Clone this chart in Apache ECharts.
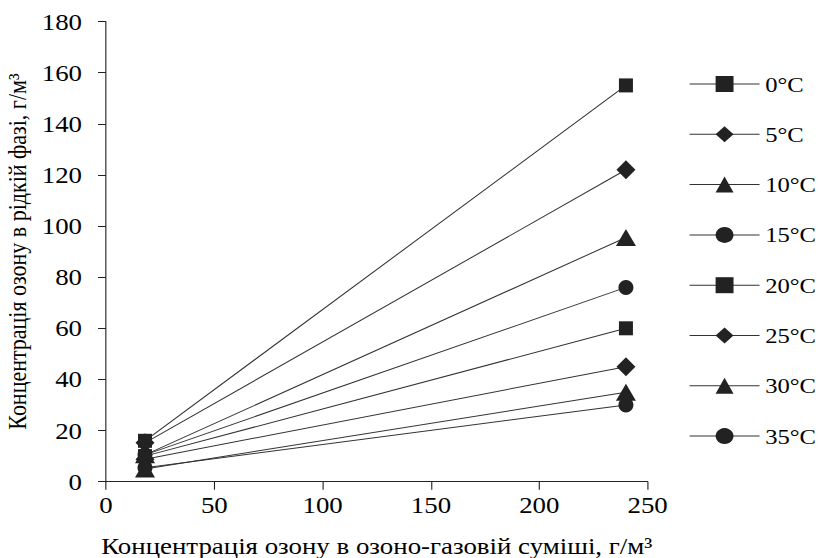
<!DOCTYPE html>
<html>
<head>
<meta charset="utf-8">
<script src="https://cdn.jsdelivr.net/npm/echarts@6/dist/echarts.min.js"></script>
<style>
  html, body { margin: 0; padding: 0; background: #fff; overflow: hidden; }
  #chart { height: 558px; transform-origin: 0 0; }
</style>
</head>
<body>
<div id="chart"></div>
<script>
// Ozone concentration in the gas mixture (x), g/m3
const gasConc = [18, 240];
// Series names (temperature)
const temps = ['0°C', '5°C', '10°C', '15°C', '20°C', '25°C', '30°C', '35°C'];
// Liquid-phase ozone concentration, g/m3, at each gas concentration
const liquidLow  = [16, 15.2, 10.5, 10.5, 10, 8.8, 5, 5.5];
const liquidHigh = [155, 122, 95.5, 76, 60, 45, 35, 30];
// Axis ticks
const xTicks = { min: 0, max: 250, step: 50 };
const yTicks = { min: 0, max: 180, step: 20 };

// The serif lettering of this figure is set wide; the drawing is laid out
// in a narrower box and widened by SX so text keeps that proportion.
const SX = 1.12;
const PAGE_W = 818;
const el = document.getElementById('chart');
el.style.width = (PAGE_W / SX) + 'px';
el.style.transform = 'scaleX(' + SX + ')';
const hx = v => v / SX;   // horizontal page px -> layout px

const markers = ['rect', 'diamond', 'triangle', 'circle', 'rect', 'diamond', 'triangle', 'circle'];
const markerSize = {
  rect: [hx(14), 14],
  diamond: [hx(19), 19],
  triangle: [hx(20), 17],
  circle: [hx(15), 15]
};

const FONT = '"Liberation Serif", "Times New Roman", serif';
const INK = '#222';

const series = temps.map((name, i) => ({
  name: name,
  type: 'line',
  data: gasConc.map((x, k) => [x, k === 0 ? liquidLow[i] : liquidHigh[i]]),
  symbol: markers[i],
  symbolSize: markerSize[markers[i]],
  itemStyle: { color: INK, borderWidth: 0 },
  lineStyle: { color: '#333', width: 1 },
  emphasis: { disabled: true },
  animation: false
}));

const chart = echarts.init(el, null, { renderer: 'svg' });
chart.setOption({
  backgroundColor: '#fff',
  animation: false,
  textStyle: { fontFamily: FONT, color: '#000' },
  grid: {
    left: hx(106), right: hx(PAGE_W - 648), top: 21.5, bottom: 76.3,
    outerBoundsMode: 'none', containLabel: false
  },
  xAxis: {
    type: 'value',
    min: xTicks.min, max: xTicks.max, interval: xTicks.step,
    name: 'Концентрація озону в озоно-газовій суміші, г/м³',
    nameLocation: 'middle',
    nameGap: 52,
    nameTextStyle: { fontFamily: FONT, fontSize: 24, color: '#000' },
    axisLine: { lineStyle: { color: INK, width: 1 } },
    axisTick: { show: true, length: 8, lineStyle: { color: INK } },
    axisLabel: { fontFamily: FONT, fontSize: 24, color: '#000', margin: 11 },
    splitLine: { show: false }
  },
  yAxis: {
    type: 'value',
    min: yTicks.min, max: yTicks.max, interval: yTicks.step,
    name: 'Концентрація озону в рідкій фазі, г/м³',
    nameLocation: 'middle',
    nameGap: hx(106 - 18) - 11,
    nameTextStyle: { fontFamily: FONT, fontSize: 22, color: '#000' },
    axisLine: { show: true, lineStyle: { color: INK, width: 1 } },
    axisTick: { show: true, length: hx(8), lineStyle: { color: INK } },
    axisLabel: { fontFamily: FONT, fontSize: 24, color: '#000', margin: hx(24) },
    splitLine: { show: false }
  },
  legend: {
    orient: 'vertical',
    left: hx(689),
    top: 73,
    padding: 0,
    itemWidth: hx(70),
    itemHeight: 20,
    itemGap: 28.3,
    data: temps,
    textStyle: { fontFamily: FONT, fontSize: 22, color: '#000' },
    itemStyle: { color: INK },
    lineStyle: { color: '#333', width: 1 },
    selectedMode: false
  },
  series: series
});
</script>
</body>
</html>
